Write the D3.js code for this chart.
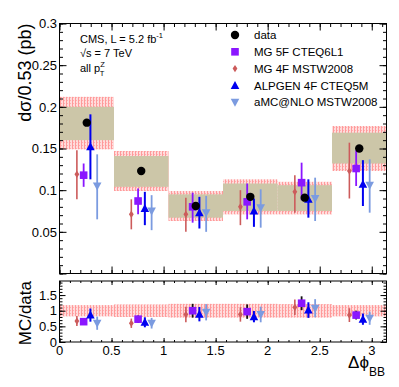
<!DOCTYPE html>
<html>
<head>
<meta charset="utf-8">
<script src="https://cdn.jsdelivr.net/npm/d3@7"></script>
<style>
body { margin: 0; background: #fff; }
text { font-family: "Liberation Sans", Arial, Helvetica, sans-serif; fill: #000; }
</style>
</head>
<body>
<div id="chart"></div>
<script>
// bins in delta phi (pi/6 wide)
var binEdges = [0, 0.5236, 1.0472, 1.5708, 2.0944, 2.618, 3.1416];
var binCenters = [0.262, 0.785, 1.309, 1.833, 2.356, 2.880];

// measured cross section + uncertainty boxes
var dataVals = [0.181, 0.123, 0.081, 0.092, 0.091, 0.150];
var statLo = [0.160, 0.104, 0.067, 0.075, 0.075, 0.132];
var statHi = [0.200, 0.141, 0.095, 0.108, 0.106, 0.169];
var totLo = [0.149, 0.099, 0.063, 0.071, 0.071, 0.123];
var totHi = [0.212, 0.147, 0.099, 0.113, 0.110, 0.177];

// predictions
var mg5fVals = [0.118, 0.087, 0.080, 0.086, 0.109, 0.126];
var mg5fLo = [0.104, 0.071, 0.061, 0.065, 0.088, 0.105];
var mg5fHi = [0.132, 0.102, 0.097, 0.108, 0.133, 0.148];
var mg4fVals = [0.119, 0.071, 0.071, 0.080, 0.098, 0.123];
var mg4fLo = [0.089, 0.053, 0.050, 0.058, 0.073, 0.090];
var mg4fHi = [0.148, 0.089, 0.091, 0.100, 0.118, 0.157];
var alpgenVals = [0.152, 0.078, 0.073, 0.075, 0.089, 0.107];
var alpgenLo = [0.113, 0.058, 0.054, 0.056, 0.067, 0.081];
var alpgenHi = [0.191, 0.098, 0.092, 0.090, 0.113, 0.136];
var amcVals = [0.105, 0.075, 0.073, 0.079, 0.090, 0.106];
var amcLo = [0.065, 0.052, 0.050, 0.055, 0.063, 0.073];
var amcHi = [0.143, 0.094, 0.093, 0.101, 0.115, 0.137];

// ratio panel
var bandLo = [0.82, 0.80, 0.78, 0.78, 0.78, 0.82];
var bandHi = [1.18, 1.20, 1.22, 1.22, 1.21, 1.18];
var mg5fRatio = [0.65, 0.73, 1.00, 0.97, 1.24, 0.86];
var mg5fRatioErr = [0.08, 0.12, 0.22, 0.23, 0.22, 0.14];
var mg4fRatio = [0.67, 0.60, 0.88, 0.88, 1.11, 0.86];
var mg4fRatioErr = [0.16, 0.15, 0.25, 0.23, 0.25, 0.22];
var alpgenRatio = [0.86, 0.63, 0.89, 0.81, 1.02, 0.73];
var alpgenRatioErr = [0.21, 0.16, 0.23, 0.18, 0.25, 0.18];
var amcRatio = [0.60, 0.60, 0.95, 0.88, 1.08, 0.76];
var amcRatioErr = [0.21, 0.17, 0.26, 0.25, 0.29, 0.21];

var xTickLabels = ["0", "0.5", "1", "1.5", "2", "2.5", "3"];
var yTickLabels = ["0.05", "0.1", "0.15", "0.2", "0.25", "0.3"];
var rTickLabels = ["0", "0.5", "1", "1.5"];

var width = 399, height = 387;
var left = 59.5, right = 386.5;
var topY0 = 23.5, topY1 = 273.5;
var botY0 = 281, botY1 = 342;

var svg = d3.select("#chart").append("svg")
	.attr("width", width)
	.attr("height", height);

var defs = svg.append("defs");
var pat = defs.append("pattern")
	.attr("id", "hatch")
	.attr("patternUnits", "userSpaceOnUse")
	.attr("width", 3).attr("height", 3);
pat.append("rect").attr("width", 3).attr("height", 3).attr("fill", "#ffdcdc");
pat.append("rect").attr("x", 0).attr("width", 1).attr("height", 3).attr("fill", "#ff9a9a");
pat.append("rect").attr("x", 1).attr("y", 1).attr("width", 1).attr("height", 1).attr("fill", "#ffb0b0");

var x = d3.scaleLinear().domain([0, Math.PI]).range([left, right]);
var y = d3.scaleLinear().domain([0, 0.3]).range([topY1, topY0]);
var yr = d3.scaleLinear().domain([0, 1.95]).range([botY1, botY0]);

var offsets = {mg4f: -0.095, mg5f: -0.03, alpgen: 0.035, amc: 0.1};

var series = [
	{key: "mg4f", name: "MG 4F MSTW2008", color: "#cc5b5b", bar: "#cc5b5b", rbar: "#cc5b5b", vals: mg4fVals, lo: mg4fLo, hi: mg4fHi, ratio: mg4fRatio, rerr: mg4fRatioErr, w: 1.6},
	{key: "mg5f", name: "MG 5F CTEQ6L1", color: "#8a16ff", bar: "#8a16ff", rbar: "#111", vals: mg5fVals, lo: mg5fLo, hi: mg5fHi, ratio: mg5fRatio, rerr: mg5fRatioErr, w: 1.8},
	{key: "alpgen", name: "ALPGEN 4F CTEQ5M", color: "#0000f0", bar: "#0000f0", rbar: "#0000f0", vals: alpgenVals, lo: alpgenLo, hi: alpgenHi, ratio: alpgenRatio, rerr: alpgenRatioErr, w: 2},
	{key: "amc", name: "aMC@NLO MSTW2008", color: "#7b9be0", bar: "#7b9be0", rbar: "#7b9be0", vals: amcVals, lo: amcLo, hi: amcHi, ratio: amcRatio, rerr: amcRatioErr, w: 1.8}
];

function marker(g, key, cx, cy, color) {
	if (key == "data") {
		g.append("circle").attr("cx", cx).attr("cy", cy).attr("r", 4.2).attr("fill", "#000");
	} else if (key == "mg5f") {
		g.append("rect").attr("x", cx - 3.8).attr("y", cy - 3.8).attr("width", 7.6).attr("height", 7.6).attr("fill", color);
	} else if (key == "mg4f") {
		g.append("path").attr("d", "M" + cx + "," + (cy - 3.6) + "L" + (cx + 2.4) + "," + cy + "L" + cx + "," + (cy + 3.6) + "L" + (cx - 2.4) + "," + cy + "Z").attr("fill", color);
	} else if (key == "alpgen") {
		g.append("path").attr("d", "M" + cx + "," + (cy - 4.5) + "L" + (cx + 4.3) + "," + (cy + 3.5) + "L" + (cx - 4.3) + "," + (cy + 3.5) + "Z").attr("fill", color);
	} else if (key == "amc") {
		g.append("path").attr("d", "M" + cx + "," + (cy + 4.5) + "L" + (cx + 4.3) + "," + (cy - 3.5) + "L" + (cx - 4.3) + "," + (cy - 3.5) + "Z").attr("fill", color);
	}
}

/* ---------------------- */
/* TOP PANEL */
/* ---------------------- */
var topG = svg.append("g");

topG.selectAll(".tot")
	.data(binCenters)
	.enter().append("rect")
	.attr("x", (d, i) => x(binEdges[i]))
	.attr("width", (d, i) => x(binEdges[i + 1]) - x(binEdges[i]))
	.attr("y", (d, i) => y(totHi[i]))
	.attr("height", (d, i) => y(totLo[i]) - y(totHi[i]))
	.attr("fill", "url(#hatch)");

topG.selectAll(".stat")
	.data(binCenters)
	.enter().append("rect")
	.attr("x", (d, i) => x(binEdges[i]))
	.attr("width", (d, i) => x(binEdges[i + 1]) - x(binEdges[i]))
	.attr("y", (d, i) => y(statHi[i]))
	.attr("height", (d, i) => y(statLo[i]) - y(statHi[i]))
	.attr("fill", "#ccc6a8");

series.forEach(s => {
	binCenters.forEach((c, i) => {
		var cx = x(c + offsets[s.key]);
		topG.append("line")
			.attr("x1", cx).attr("x2", cx)
			.attr("y1", y(s.lo[i])).attr("y2", y(s.hi[i]))
			.attr("stroke", s.bar).attr("stroke-width", s.w);
		marker(topG, s.key, cx, y(s.vals[i]), s.color);
	});
});

binCenters.forEach((c, i) => marker(topG, "data", x(c), y(dataVals[i])));

/* ---------------------- */
/* RATIO PANEL */
/* ---------------------- */
var botG = svg.append("g");

botG.selectAll(".band")
	.data(binCenters)
	.enter().append("rect")
	.attr("x", (d, i) => x(binEdges[i]))
	.attr("width", (d, i) => x(binEdges[i + 1]) - x(binEdges[i]))
	.attr("y", (d, i) => yr(bandHi[i]))
	.attr("height", (d, i) => yr(bandLo[i]) - yr(bandHi[i]))
	.attr("fill", "url(#hatch)");

series.forEach(s => {
	binCenters.forEach((c, i) => {
		var cx = x(c + offsets[s.key]);
		botG.append("line")
			.attr("x1", cx).attr("x2", cx)
			.attr("y1", yr(s.ratio[i] - s.rerr[i])).attr("y2", yr(s.ratio[i] + s.rerr[i]))
			.attr("stroke", s.rbar).attr("stroke-width", s.w);
		marker(botG, s.key, cx, yr(s.ratio[i]), s.color);
	});
});

/* ---------------------- */
/* AXES */
/* ---------------------- */
function ticks(g, scale, orient, values, len) {
	var ax = (orient == "left" ? d3.axisLeft(scale) : orient == "right" ? d3.axisRight(scale) :
		orient == "top" ? d3.axisTop(scale) : d3.axisBottom(scale));
	ax.tickValues(values).tickSize(-len).tickFormat("");
	g.call(ax);
	g.select(".domain").remove();
	g.selectAll("line").attr("stroke", "#000").attr("stroke-width", 1);
}

function range(a, b, step) {
	return d3.range(Math.round((b - a) / step) + 1).map(i => +(a + i * step).toFixed(4));
}

var xMaj = range(0, 3, 0.5), xMin = range(0, 3.1, 0.1);
var yMaj = range(0, 0.3, 0.05), yMin = range(0, 0.3, 0.01);
var rMaj = range(0, 1.5, 0.5), rMin = range(0, 1.9, 0.1);

// top panel frame ticks
ticks(svg.append("g").attr("transform", "translate(" + left + ",0)"), y, "left", yMin, 3.5);
ticks(svg.append("g").attr("transform", "translate(" + left + ",0)"), y, "left", yMaj, 7);
ticks(svg.append("g").attr("transform", "translate(" + right + ",0)"), y, "right", yMin, 3.5);
ticks(svg.append("g").attr("transform", "translate(" + right + ",0)"), y, "right", yMaj, 7);
ticks(svg.append("g").attr("transform", "translate(0," + topY1 + ")"), x, "bottom", xMin, 3.5);
ticks(svg.append("g").attr("transform", "translate(0," + topY1 + ")"), x, "bottom", xMaj, 7);
ticks(svg.append("g").attr("transform", "translate(0," + topY0 + ")"), x, "top", xMin, 3.5);
ticks(svg.append("g").attr("transform", "translate(0," + topY0 + ")"), x, "top", xMaj, 7);

// ratio frame ticks
ticks(svg.append("g").attr("transform", "translate(" + left + ",0)"), yr, "left", rMin, 3);
ticks(svg.append("g").attr("transform", "translate(" + left + ",0)"), yr, "left", rMaj, 6);
ticks(svg.append("g").attr("transform", "translate(" + right + ",0)"), yr, "right", rMin, 3);
ticks(svg.append("g").attr("transform", "translate(" + right + ",0)"), yr, "right", rMaj, 6);
ticks(svg.append("g").attr("transform", "translate(0," + botY1 + ")"), x, "bottom", xMin, 2);
ticks(svg.append("g").attr("transform", "translate(0," + botY1 + ")"), x, "bottom", xMaj, 4);
ticks(svg.append("g").attr("transform", "translate(0," + botY0 + ")"), x, "top", xMin, 2);
ticks(svg.append("g").attr("transform", "translate(0," + botY0 + ")"), x, "top", xMaj, 4);

svg.append("rect").attr("x", left).attr("y", topY0).attr("width", right - left).attr("height", topY1 - topY0)
	.attr("fill", "none").attr("stroke", "#000").attr("stroke-width", 1);
svg.append("rect").attr("x", left).attr("y", botY0).attr("width", right - left).attr("height", botY1 - botY0)
	.attr("fill", "none").attr("stroke", "#000").attr("stroke-width", 1);

// tick labels
svg.selectAll(".ylab").data(yTickLabels).enter().append("text")
	.attr("x", left - 2.5).attr("y", d => y(+d)).attr("dy", "0.36em")
	.attr("text-anchor", "end").style("font-size", "13px").text(d => d);
svg.selectAll(".rlab").data(rTickLabels).enter().append("text")
	.attr("x", left - 2.5).attr("y", d => yr(+d)).attr("dy", "0.36em")
	.attr("text-anchor", "end").style("font-size", "13px").text(d => d);
svg.selectAll(".xlab").data(xTickLabels).enter().append("text")
	.attr("x", d => x(+d)).attr("y", botY1 + 13)
	.attr("text-anchor", "middle").style("font-size", "13px").text(d => d);

// axis titles
svg.append("text").attr("transform", "translate(31," + topY0 + ") rotate(-90)")
	.attr("text-anchor", "end").style("font-size", "18px").text("dσ/0.53 (pb)");
svg.append("text").attr("transform", "translate(31," + botY0 + ") rotate(-90)")
	.attr("text-anchor", "end").style("font-size", "17px").text("MC/data");

var xt = svg.append("text").attr("x", 385).attr("y", 368).attr("text-anchor", "end").style("font-size", "17px");
xt.append("tspan").text("Δϕ");
xt.append("tspan").attr("dy", 8).style("font-size", "12px").text("BB");

// info text
var info = svg.append("g").style("font-size", "11px");
var t1 = info.append("text").attr("x", 80).attr("y", 43);
t1.append("tspan").text("CMS, L = 5.2 fb");
t1.append("tspan").attr("dy", -5).style("font-size", "7.5px").text("-1");
info.append("text").attr("x", 80).attr("y", 57).text("√s = 7 TeV");
var t3 = info.append("text").attr("x", 80).attr("y", 72);
t3.append("tspan").text("all p");
t3.append("tspan").attr("dx", 0).attr("dy", -5).style("font-size", "7.5px").text("Z");
t3.append("tspan").attr("dx", -5).attr("dy", 9).style("font-size", "7.5px").text("T");

// legend
var legendKeys = ["data", "mg5f", "mg4f", "alpgen", "amc"];
var legendNames = ["data", "MG 5F CTEQ6L1", "MG 4F MSTW2008", "ALPGEN 4F CTEQ5M", "aMC@NLO MSTW2008"];
var legend = svg.append("g");
legendKeys.forEach((k, i) => {
	var ly = 35 + i * 16.8;
	var s = series.find(d => d.key == k);
	marker(legend, k, 235, ly, s ? s.color : "#000");
	legend.append("text").attr("x", 254).attr("y", ly).attr("dy", "0.36em")
		.style("font-size", "11.5px").text(legendNames[i]);
});
</script>
</body>
</html>
